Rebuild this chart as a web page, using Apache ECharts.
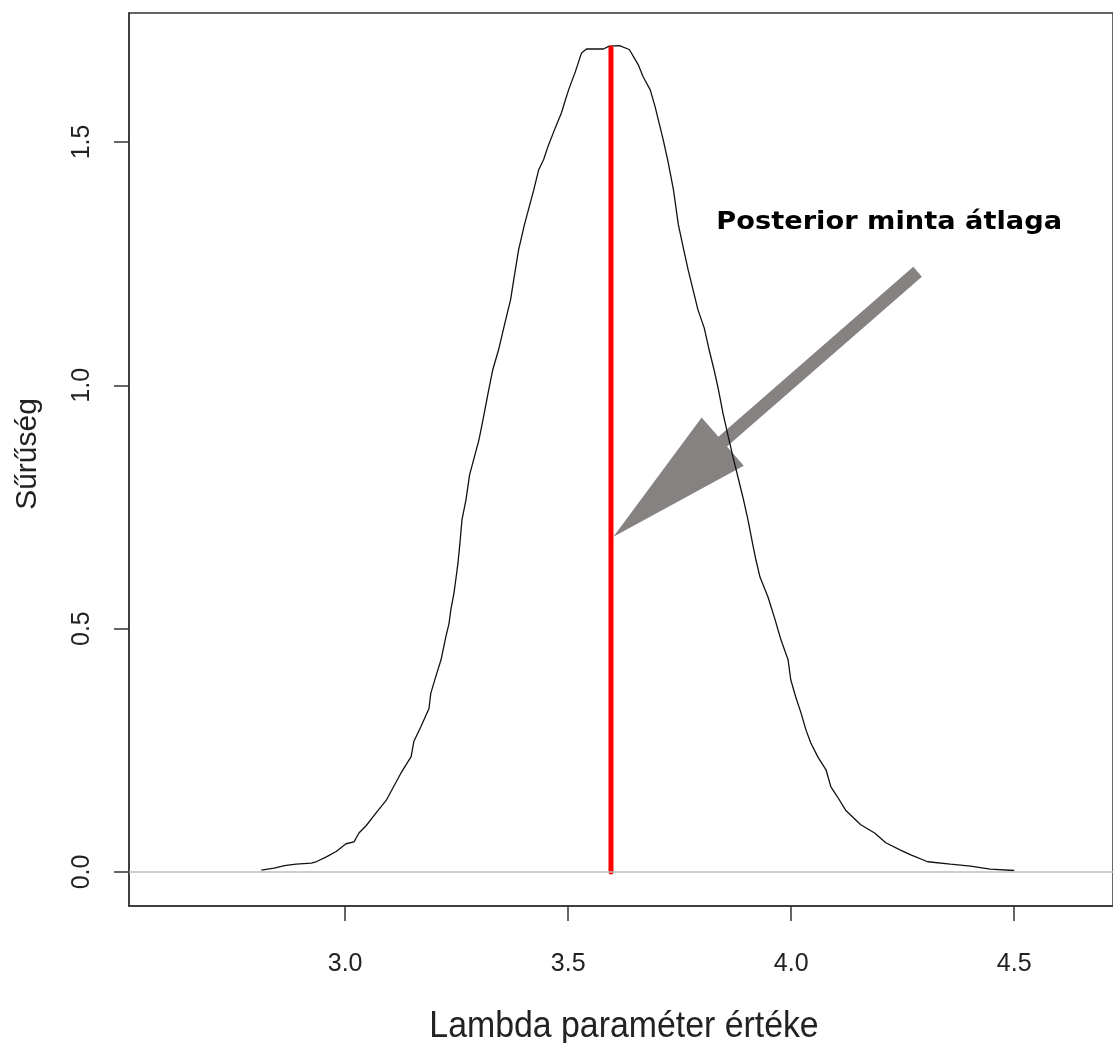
<!DOCTYPE html>
<html>
<head>
<meta charset="utf-8">
<script src="https://cdn.jsdelivr.net/npm/echarts@6/dist/echarts.min.js"></script>
<style>
html,body{margin:0;padding:0;background:#fff;overflow:hidden}
#chart{width:1113px;height:1043px}
</style>
</head>
<body>
<div id="chart"></div>
<script>
// ---- data ----
const densityX = [2.812,2.841,2.864,2.890,2.924,2.935,2.958,2.980,3.002,3.020,3.031,3.047,3.069,3.092,3.105,3.125,3.148,3.154,3.170,3.188,3.192,3.203,3.215,3.226,3.233,3.237,3.244,3.248,3.253,3.257,3.262,3.271,3.279,3.291,3.300,3.309,3.322,3.331,3.344,3.360,3.371,3.378,3.389,3.402,3.411,3.423,3.434,3.445,3.456,3.472,3.485,3.492,3.501,3.516,3.530,3.541,3.579,3.592,3.615,3.637,3.657,3.668,3.684,3.695,3.702,3.713,3.724,3.736,3.747,3.758,3.769,3.780,3.791,3.805,3.816,3.827,3.836,3.847,3.858,3.870,3.881,3.892,3.903,3.914,3.921,3.930,3.948,3.964,3.977,3.993,3.999,4.010,4.022,4.033,4.044,4.060,4.078,4.089,4.104,4.122,4.156,4.187,4.212,4.245,4.268,4.306,4.357,4.402,4.446,4.500];
const densityY = [0.004,0.008,0.013,0.016,0.018,0.021,0.031,0.042,0.058,0.062,0.080,0.095,0.121,0.147,0.169,0.203,0.237,0.268,0.299,0.336,0.367,0.401,0.436,0.484,0.511,0.539,0.573,0.600,0.635,0.672,0.724,0.765,0.816,0.857,0.888,0.929,0.991,1.032,1.073,1.135,1.176,1.217,1.279,1.330,1.361,1.402,1.443,1.464,1.494,1.531,1.560,1.581,1.607,1.644,1.683,1.691,1.691,1.697,1.698,1.690,1.659,1.634,1.607,1.572,1.546,1.505,1.459,1.402,1.330,1.283,1.237,1.196,1.155,1.118,1.073,1.032,0.995,0.943,0.898,0.851,0.810,0.769,0.724,0.672,0.641,0.606,0.565,0.518,0.477,0.436,0.395,0.360,0.327,0.292,0.265,0.236,0.210,0.175,0.154,0.127,0.097,0.080,0.060,0.045,0.035,0.021,0.016,0.012,0.006,0.003];
const meanLambda = 3.596;
const meanDensity = 1.693;
const xTickValues = [3.0, 3.5, 4.0, 4.5];
const yTickValues = [0.0, 0.5, 1.0, 1.5];
const xRange = [2.5155, 4.7214];
const yRange = [-0.0699, 1.765];
const xTitle = 'Lambda paraméter értéke';
const yTitle = 'Sűrűség';
const annotationText = 'Posterior minta átlaga';
const annotationAnchor = [3.832, 1.316];
const arrowFrom = [4.2833, 1.2333];
const arrowTo = [3.6014, 0.6886];

// ---- chart ----
const chart = echarts.init(document.getElementById('chart'), null, {renderer: 'canvas'});
const densityData = densityX.map((x, i) => [x, densityY[i]]);
const tickFont = {color: '#222', fontFamily: 'Liberation Sans', fontSize: 25};

chart.setOption({
  animation: false,
  backgroundColor: '#fff',
  grid: {left: 129, top: 13, right: -3, bottom: 137, show: true, borderColor: '#333', borderWidth: 1.5, backgroundColor: 'transparent'},
  xAxis: {
    type: 'value', position: 'bottom', min: xRange[0], max: xRange[1],
    axisLine: {show: true, onZero: false, lineStyle: {color: '#333', width: 1.5}}, splitLine: {show: false},
    axisTick: {show: true, inside: false, length: 15, customValues: xTickValues, lineStyle: {color: '#333', width: 1.5}},
    axisLabel: Object.assign({customValues: xTickValues, formatter: v => v.toFixed(1), margin: 46}, tickFont)
  },
  yAxis: {
    type: 'value', position: 'left', min: yRange[0], max: yRange[1],
    axisLine: {show: true, onZero: false, lineStyle: {color: '#333', width: 1.5}}, splitLine: {show: false},
    axisTick: {show: true, inside: false, length: 15, customValues: yTickValues, lineStyle: {color: '#333', width: 1.5}},
    axisLabel: Object.assign({customValues: yTickValues, formatter: v => v.toFixed(1), margin: 34, rotate: 90}, tickFont)
  },
  series: [
    {
      type: 'line', data: densityData, showSymbol: false, symbol: 'none', silent: true, z: 3,
      lineStyle: {color: '#111', width: 1.3},
      markLine: {
        silent: true, symbol: ['none', 'none'], label: {show: false},
        lineStyle: {color: '#bebebe', width: 1.5, type: 'solid'},
        data: [{yAxis: 0}]
      }
    },
    {
      type: 'line', data: [[meanLambda, 0], [meanLambda, meanDensity]], showSymbol: false, symbol: 'none', silent: true, z: 4,
      lineStyle: {color: '#ff0000', width: 5, cap: 'round'}
    }
  ]
});

function toPx(p) { return chart.convertToPixel({gridIndex: 0}, p); }
const tip = toPx(arrowTo), tail = toPx(arrowFrom);
const dx = tail[0] - tip[0], dy = tail[1] - tip[1];
const len = Math.hypot(dx, dy);
const ux = dx / len, uy = dy / len, nx = -uy, ny = ux;
const headLen = 145, headHalf = 32, shaftHalf = 6.5;
const bx = tip[0] + ux * headLen, by = tip[1] + uy * headLen;
const arrowPts = [
  tip,
  [bx + nx * headHalf, by + ny * headHalf],
  [bx + nx * shaftHalf, by + ny * shaftHalf],
  [tail[0] + nx * shaftHalf, tail[1] + ny * shaftHalf],
  [tail[0] - nx * shaftHalf, tail[1] - ny * shaftHalf],
  [bx - nx * shaftHalf, by - ny * shaftHalf],
  [bx - nx * headHalf, by - ny * headHalf]
];
const anchorPx = toPx(annotationAnchor);

chart.setOption({
  graphic: [
    {type: 'polygon', z: 1, silent: true, shape: {points: arrowPts}, style: {fill: '#878282'}},
    {type: 'text', z: 10, silent: true, x: anchorPx[0], y: anchorPx[1] - 8.3, scaleX: 1.135,
     style: {text: annotationText, fontFamily: 'DejaVu Sans', fontWeight: 'bold', fontSize: 24, fill: '#000',
             align: 'left', verticalAlign: 'middle', textAlign: 'left', textVerticalAlign: 'middle'}},
    {type: 'text', z: 10, silent: true, x: 624, y: 1027.5, scaleX: 0.94,
     style: {text: xTitle, fontFamily: 'Liberation Sans', fontSize: 36, fill: '#222',
             align: 'center', verticalAlign: 'middle', textAlign: 'center', textVerticalAlign: 'middle'}},
    {type: 'text', z: 10, silent: true, x: 28, y: 454, rotation: Math.PI / 2,
     style: {text: yTitle, fontFamily: 'Liberation Sans', fontSize: 30, fill: '#222',
             align: 'center', verticalAlign: 'middle', textAlign: 'center', textVerticalAlign: 'middle'}}
  ]
});
</script>
</body>
</html>
